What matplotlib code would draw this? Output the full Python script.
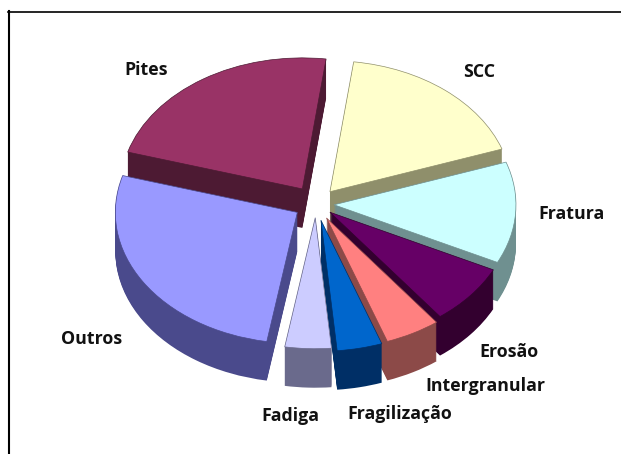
import matplotlib
matplotlib.use("Agg")
import matplotlib.pyplot as plt
from matplotlib.lines import Line2D

plt.rcParams['font.family'] = ['Open Sans', 'DejaVu Sans']

labels = ['SCC', 'Fratura', 'Erosão', 'Intergranular', 'Fragilização', 'Fadiga', 'Outros', 'Pites']
values = [17.6, 12.5, 7.4, 4.9, 4.0, 4.1, 26.8, 22.5]
explode = [22, 18, 18, 22, 23, 19, 22, 25]
top_colors = ['#FFFFCC', '#CCFFFF', '#660066', '#FF8080', '#0066CC', '#CCCCFF', '#9999FF', '#993366']
side_colors = ['#8F8F6B', '#6F9090', '#33002F', '#8C4A48', '#002F66', '#6A6A8C', '#4A4A8C', '#4D1A33']
draw_order = [7, 0, 1, 6, 2, 3, 5, 4]

label_x = [479, 571, 509, 485, 400, 290, 92, 146]
label_y = [72, 214, 352, 386, 414, 416, 339, 70]

squash = 0.72
depth = 39


def to_y(py):
    return (454 - py) / squash


fig = plt.figure(figsize=(6.21, 4.54), dpi=100)
ax = fig.add_axes([0, 0, 1, 1])

for d in list(range(depth, 0, -1)) + [0]:
    wedges, _ = ax.pie(values, explode=explode, startangle=82.5, counterclock=False,
                       colors=top_colors if d == 0 else side_colors,
                       radius=182, center=(316, to_y(204 + d)), frame=True,
                       wedgeprops={'linewidth': 0})
    for i, w in enumerate(wedges):
        w.set_zorder(draw_order.index(i) + (1 - d / (depth + 1)) * 0.9)
        if d == 0:
            w.set_edgecolor(side_colors[i])
            w.set_linewidth(0.5)

ax.set_aspect('auto')
ax.set_xlim(0, 621)
ax.set_ylim(0, 454 / squash)
ax.axis('off')

# frame only shows on the left and top, the rest runs off the image
fig.add_artist(Line2D([9 / 621, 9 / 621], [0, 1 - 11 / 454], color='black', linewidth=1.5))
fig.add_artist(Line2D([8 / 621, 1], [1 - 11.5 / 454, 1 - 11.5 / 454], color='black', linewidth=1.2))

for name, x, y in zip(labels, label_x, label_y):
    ax.text(x, to_y(y), name, ha='center', va='center', fontsize=12.8,
            fontweight='bold', color='#111111', zorder=20)

fig.savefig('out.png', dpi=100)
